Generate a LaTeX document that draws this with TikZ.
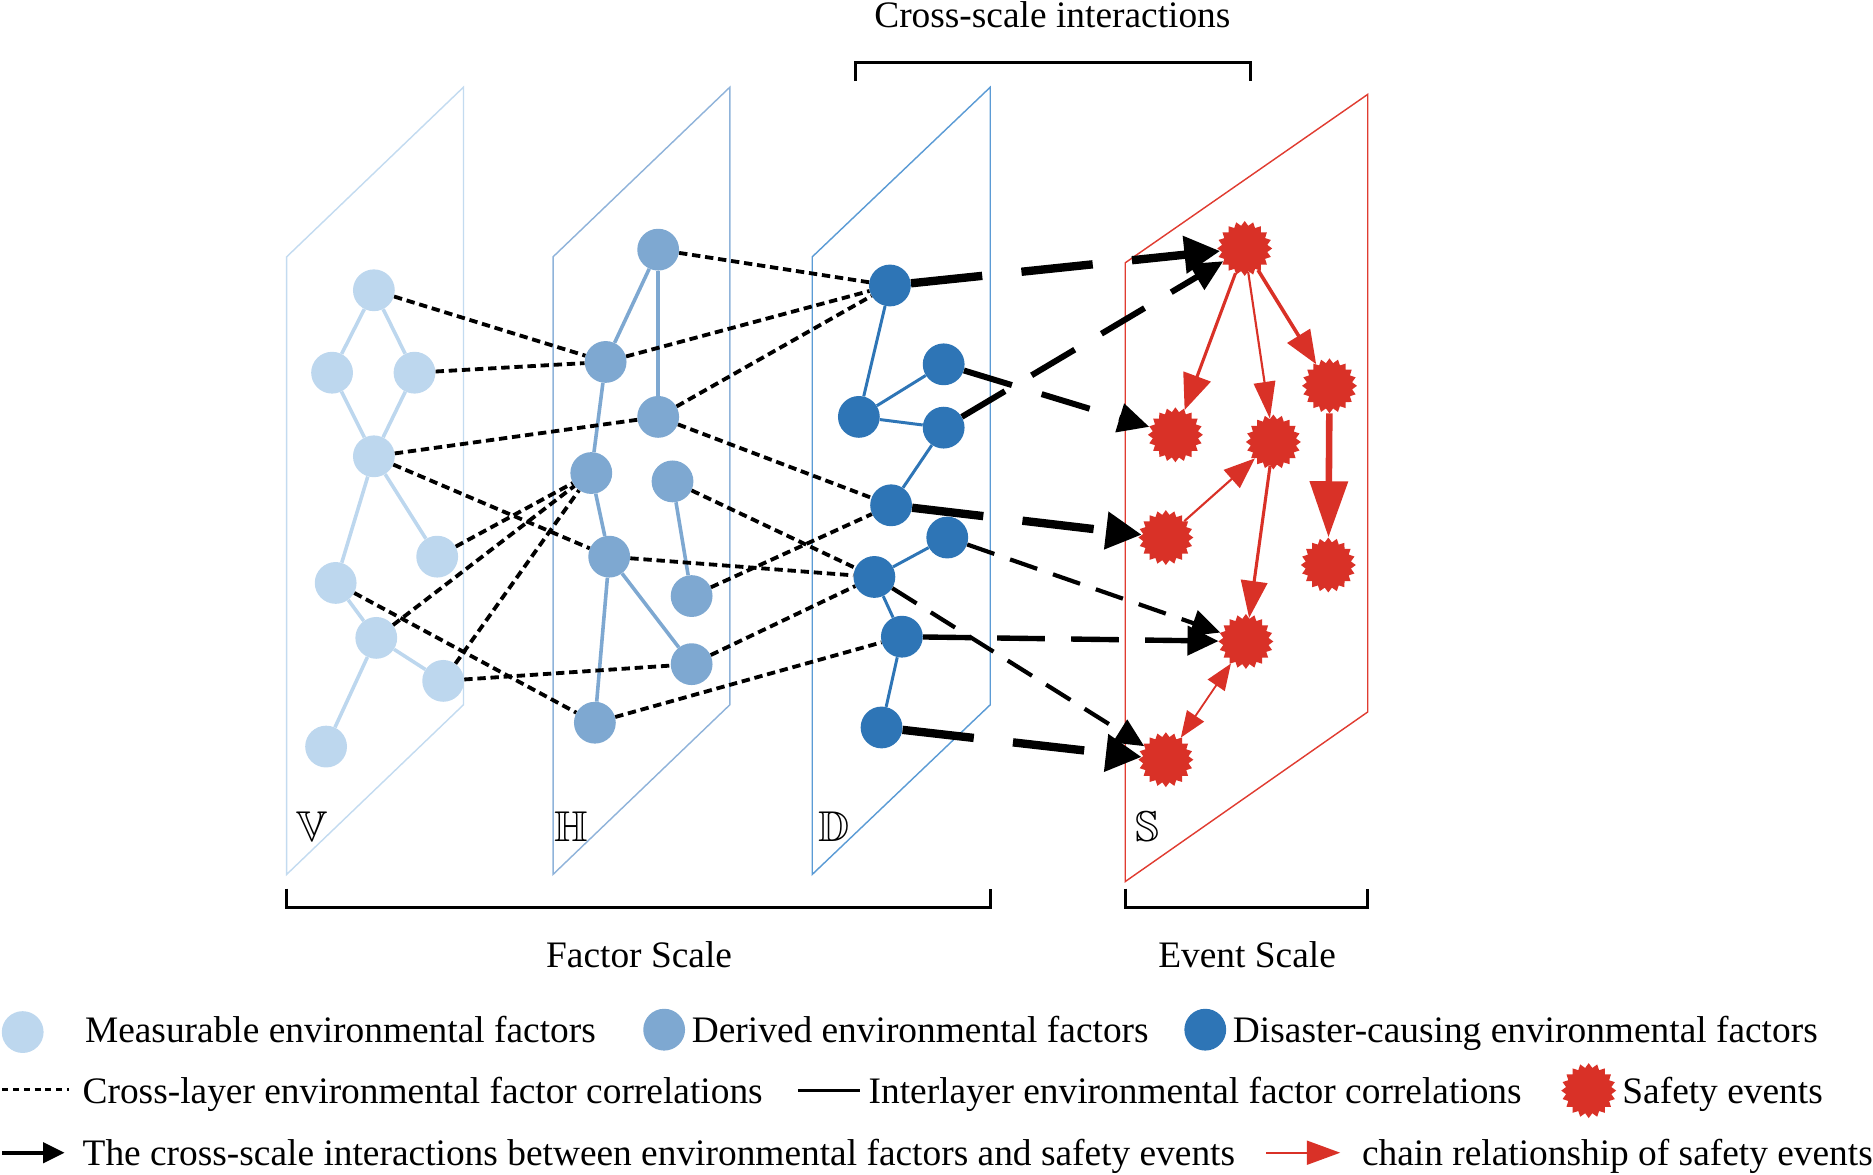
\documentclass[tikz,border=0pt]{standalone}
\usepackage{graphicx}
\usepackage{amssymb}
\usepackage{fontspec}
\setmainfont{Liberation Serif}
\usetikzlibrary{arrows.meta,shapes.geometric}
\definecolor{vblue}{HTML}{BDD7EE}
\definecolor{hblue}{HTML}{7EA8D1}
\definecolor{dblue}{HTML}{2E75B6}
\definecolor{sred}{HTML}{D93127}
\definecolor{vplane}{HTML}{C3DBF0}
\definecolor{hplane}{HTML}{8FB3DA}
\definecolor{dplane}{HTML}{5B9BD5}
\definecolor{splane}{HTML}{E03C31}
\begin{document}
\begin{tikzpicture}[x=1pt,y=-1pt,
  vn/.style={circle,fill=vblue,minimum size=35pt,inner sep=0pt},
  hn/.style={circle,fill=hblue,minimum size=35pt,inner sep=0pt},
  dn/.style={circle,fill=dblue,minimum size=35pt,inner sep=0pt},
  sn/.style={star,star points=20,star point ratio=1.2,fill=sred,minimum size=46pt,inner sep=0pt},
  vedge/.style={vblue,line width=3pt},
  hedge/.style={hblue,line width=3pt},
  dedge/.style={dblue,line width=2.5pt},
  dotline/.style={black,line width=3.2pt,dash pattern=on 7pt off 4pt},
  thickdash/.style={black,line width=7pt,dash pattern=on 60pt off 33pt,-{Triangle[length=30pt,width=30pt]}},
  meddash/.style={black,line width=5pt,dash pattern=on 42pt off 26pt,-{Triangle[length=26pt,width=24pt]}},
  thindash/.style={black,line width=3.5pt,dash pattern=on 24pt off 14pt,-{Triangle[length=24pt,width=22pt]}},
  redarr/.style={sred,line width=#1},
  lbl/.style={inner sep=0pt,font=\fontsize{31.3}{37}\selectfont},
  plbl/.style={inner sep=0pt,font=\fontsize{24.88}{30}\selectfont},
  bracket/.style={black,line width=2.5pt}
]
\useasboundingbox (0,0) rectangle (1568,983);

% planes
\draw[vplane,line width=1.2pt] (240,215) -- (388,73) -- (388,590) -- (240,732) -- cycle;
\draw[hplane,line width=1.2pt] (463,215) -- (611,73) -- (611,590) -- (463,732) -- cycle;
\draw[dplane,line width=1.2pt] (680,215) -- (829,73) -- (829,590) -- (680,732) -- cycle;
\draw[splane,line width=1.2pt] (942,220) -- (1145,79) -- (1145,596) -- (942,738) -- cycle;

\node[plbl] (lv) at (261,692) {\scalebox{1.45}{$\mathbb{V}$}};
\node[plbl] (lh) at (478,692) {\scalebox{1.45}{$\mathbb{H}$}};
\node[plbl] (ld) at (698,692) {\scalebox{1.45}{$\mathbb{D}$}};
\node[plbl] (ls) at (961,692) {\scalebox{1.45}{$\mathbb{S}$}};

% nodes V
\node[vn] (v1) at (313,243) {};
\node[vn] (v2) at (278,312) {};
\node[vn] (v3) at (347,312) {};
\node[vn] (v4) at (313,382) {};
\node[vn] (v5) at (366,466) {};
\node[vn] (v6) at (281,488) {};
\node[vn] (v7) at (315,534) {};
\node[vn] (v8) at (371,570) {};
\node[vn] (v9) at (273,625) {};
% nodes H
\node[hn] (h1) at (551,209) {};
\node[hn] (h2) at (507,303) {};
\node[hn] (h3) at (551,349) {};
\node[hn] (h4) at (495,396) {};
\node[hn] (h5) at (563,403) {};
\node[hn] (h6) at (510,466) {};
\node[hn] (h7) at (579,499) {};
\node[hn] (h8) at (579,556) {};
\node[hn] (h9) at (498,605) {};
% nodes D
\node[dn] (d1) at (745,239) {};
\node[dn] (d2) at (790,305) {};
\node[dn] (d3) at (719,349) {};
\node[dn] (d4) at (790,358) {};
\node[dn] (d5) at (746,423) {};
\node[dn] (d6) at (793,450) {};
\node[dn] (d7) at (732,483) {};
\node[dn] (d8) at (755,533) {};
\node[dn] (d9) at (738,609) {};
% nodes S
\node[sn] (s1) at (1042,208) {};
\node[sn] (s2) at (984,364) {};
\node[sn] (s3) at (1066,370) {};
\node[sn] (s4) at (1113,323) {};
\node[sn] (s5) at (976,450) {};
\node[sn] (s6) at (1112,473) {};
\node[sn] (s7) at (1043,537) {};
\node[sn] (s8) at (976,636) {};

% intra-layer edges
\draw[vedge] (v1) -- (v2); \draw[vedge] (v1) -- (v3);
\draw[vedge] (v2) -- (v4); \draw[vedge] (v3) -- (v4);
\draw[vedge] (v4) -- (v5); \draw[vedge] (v4) -- (v6);
\draw[vedge] (v6) -- (v7); \draw[vedge] (v7) -- (v8);
\draw[vedge] (v7) -- (v9);
\draw[hedge] (h1) -- (h2); \draw[hedge] (h1) -- (h3);
\draw[hedge] (h2) -- (h4); \draw[hedge] (h4) -- (h6);
\draw[hedge] (h5) -- (h7); \draw[hedge] (h6) -- (h8);
\draw[hedge] (h6) -- (h9);
\draw[dedge] (d1) -- (d3); \draw[dedge] (d3) -- (d2);
\draw[dedge] (d3) -- (d4); \draw[dedge] (d4) -- (d5);
\draw[dedge] (d6) -- (d7); \draw[dedge] (d7) -- (d8);
\draw[dedge] (d8) -- (d9);

% cross-layer dotted
\draw[dotline] (v1) -- (h2); \draw[dotline] (v3) -- (h2);
\draw[dotline] (v4) -- (h3); \draw[dotline] (v4) -- (h6);
\draw[dotline] (v5) -- (h4); \draw[dotline] (v7) -- (h4);
\draw[dotline] (v8) -- (h4); \draw[dotline] (v6) -- (h9);
\draw[dotline] (v8) -- (h8);
\draw[dotline] (h1) -- (d1); \draw[dotline] (h2) -- (d1);
\draw[dotline] (h3) -- (d1); \draw[dotline] (h3) -- (d5);
\draw[dotline] (h5) -- (d7); \draw[dotline] (h6) -- (d7);
\draw[dotline] (h7) -- (d5); \draw[dotline] (h8) -- (d7);
\draw[dotline] (h9) -- (d8);

% cross-scale dashed arrows
\draw[thickdash] (d1) -- (s1);
\draw[thickdash] (d5) -- (s5);
\draw[thickdash] (d9) -- (s8);
\draw[meddash] (d2) -- (s2);
\draw[meddash] (d4) -- (s1);
\draw[meddash,line width=4.5pt,dash pattern=on 40pt off 22pt] (d8) -- (s7);
\draw[thindash] (d6) -- (s7);
\draw[thindash] (d7) -- (s8);

% safety event chains
\draw[redarr=2.6pt,-{Triangle[length=30pt,width=24pt]}] (s1) -- (s2);
\draw[redarr=1.8pt,-{Triangle[length=31pt,width=18pt]}] (s1) -- (s3);
\draw[redarr=3pt,-{Triangle[length=28pt,width=22pt]}] (s1) -- (s4);
\draw[redarr=5.5pt,-{Triangle[length=47pt,width=31pt]}] (s4) -- (s6);
\draw[redarr=1.8pt,-{Triangle[length=26pt,width=20pt]}] (s5) -- (s3);
\draw[redarr=2.6pt,-{Triangle[length=31pt,width=22pt]}] (s3) -- (s7);
\draw[redarr=1.5pt,{Triangle[length=22pt,width=17pt]}-{Triangle[length=22pt,width=17pt]}] (s8) -- (s7);

% brackets and titles
\draw[bracket] (716,68) -- (716,52) -- (1047,52) -- (1047,68);
\node[lbl,anchor=base] (tcs) at (881,23) {Cross-scale interactions};
\draw[bracket] (240,744) -- (240,760) -- (829,760) -- (829,744);
\node[lbl,anchor=base] (tfs) at (535,810) {Factor Scale};
\draw[bracket] (942,744) -- (942,760) -- (1145,760) -- (1145,744);
\node[lbl,anchor=base] (tes) at (1044,810) {Event Scale};

% legend
\node[vn] (lg1) at (19,864) {};
\node[lbl,anchor=base west] (lt1) at (71,873) {Measurable environmental factors};
\node[hn] (lg2) at (556,862) {};
\node[lbl,anchor=base west] (lt2) at (579,873) {Derived environmental factors};
\node[dn] (lg3) at (1009,862) {};
\node[lbl,anchor=base west] (lt3) at (1032,873) {Disaster-causing environmental factors};

\coordinate (l4a) at (2,912); \coordinate (l4b) at (58,912);
\draw[dotline,line width=2.5pt,dash pattern=on 5pt off 4pt] (l4a) -- (l4b);
\node[lbl,anchor=base west] (lt4) at (69,924) {Cross-layer environmental factor correlations};
\coordinate (l5a) at (668,913); \coordinate (l5b) at (720,913);
\draw[black,line width=3pt] (l5a) -- (l5b);
\node[lbl,anchor=base west] (lt5) at (727,924) {Interlayer environmental factor correlations};
\node[sn] (lg6) at (1330,913) {};
\node[lbl,anchor=base west] (lt6) at (1358,924) {Safety events};

\coordinate (l7a) at (2,965); \coordinate (l7b) at (54,965);
\draw[black,line width=3pt,-{Triangle[length=18pt,width=17pt]}] (l7a) -- (l7b);
\node[lbl,anchor=base west] (lt7) at (69,976) {The cross-scale interactions between environmental factors and safety events};
\coordinate (l8a) at (1060,965); \coordinate (l8b) at (1122,965);
\draw[sred,line width=2pt,-{Triangle[length=28pt,width=20pt]}] (l8a) -- (l8b);
\node[lbl,anchor=base west] (lt8) at (1140,976) {chain relationship of safety events};
\end{tikzpicture}
\end{document}
